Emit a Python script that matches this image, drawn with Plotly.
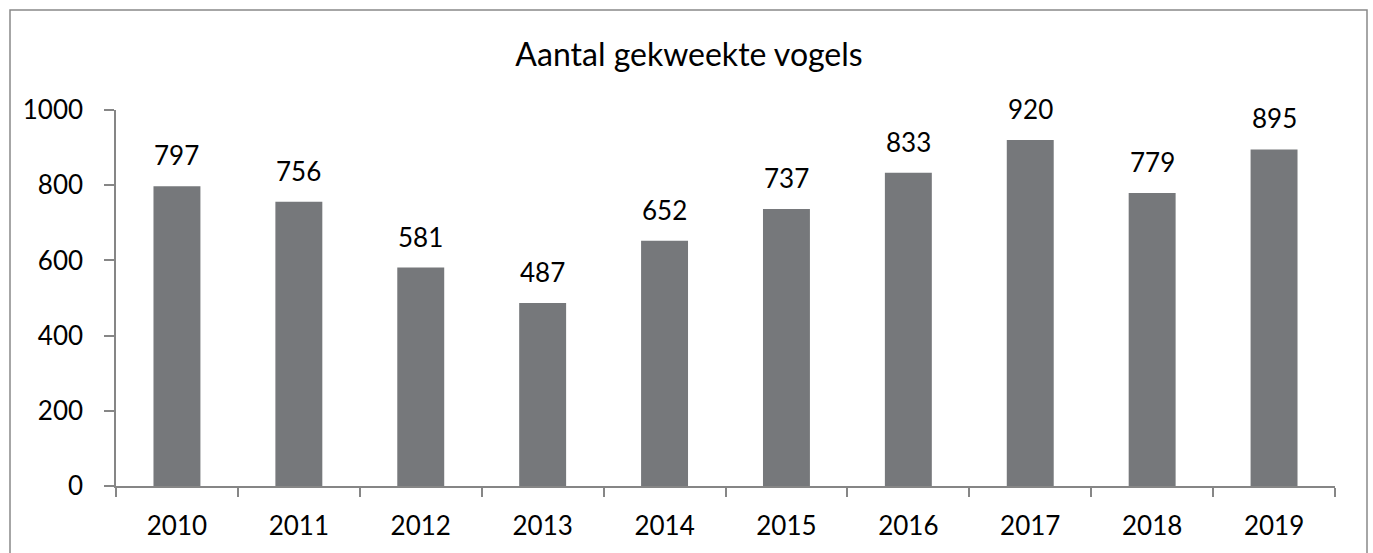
import plotly.graph_objects as go

years = ["2010", "2011", "2012", "2013", "2014", "2015", "2016", "2017", "2018", "2019"]
values = [797, 756, 581, 487, 652, 737, 833, 920, 779, 895]
y_ticks = [0, 200, 400, 600, 800, 1000]

W, H = 1373, 553
ml, mr, mt, mb = 116, 38, 110, 67
pw, ph = W - ml - mr, H - mt - mb

font = "Lato, 'Open Sans', sans-serif"
bar_color = "#76787B"
axis_color = "#868686"

fig = go.Figure()
fig.add_trace(go.Bar(x=years, y=values, marker=dict(color=bar_color, line=dict(width=0)),
                     hoverinfo="x+y"))

for i, v in enumerate(values):
    fig.add_annotation(x=i, y=v, text=str(v), showarrow=False, yanchor="bottom",
                       yshift=13, font=dict(family=font, size=26, color="#000000"))

# outer frame (bottom edge falls outside the picture)
fig.add_shape(type="rect", xref="paper", yref="paper",
              x0=(10 - ml) / pw, x1=(1367 - ml) / pw,
              y0=-(mb + 20) / ph, y1=(H - 10 - mb) / ph,
              line=dict(color="#898989", width=1.5), fillcolor="rgba(0,0,0,0)", layer="below")

fig.update_layout(
    width=W, height=H,
    margin=dict(l=ml, r=mr, t=mt, b=mb),
    paper_bgcolor="white", plot_bgcolor="white",
    bargap=0.615,
    showlegend=False,
    title=dict(text="Aantal gekweekte vogels", x=(689 - ml) / pw, xref="paper", xanchor="center",
               y=1 - 55 / H, yref="container", yanchor="middle",
               font=dict(family=font, size=32, color="#000000")),
    font=dict(family=font, size=26, color="#000000"),
)
fig.update_xaxes(type="category", range=[-0.5, 9.5], showline=True, linecolor=axis_color,
                 linewidth=1.5, ticks="outside", tickson="boundaries", ticklen=9,
                 tickcolor=axis_color, tickwidth=1.5, ticklabelstandoff=16, showgrid=False,
                 tickangle=0, tickfont=dict(family=font, size=26, color="#000000"))
fig.update_yaxes(range=[0, 1000], tickvals=y_ticks, showline=True, linecolor=axis_color,
                 linewidth=1.5, ticks="outside", ticklen=10, tickcolor=axis_color,
                 tickwidth=1.5, ticklabelstandoff=16, showgrid=False, zeroline=False,
                 tickfont=dict(family=font, size=26, color="#000000"))

fig.write_html("out.html")
